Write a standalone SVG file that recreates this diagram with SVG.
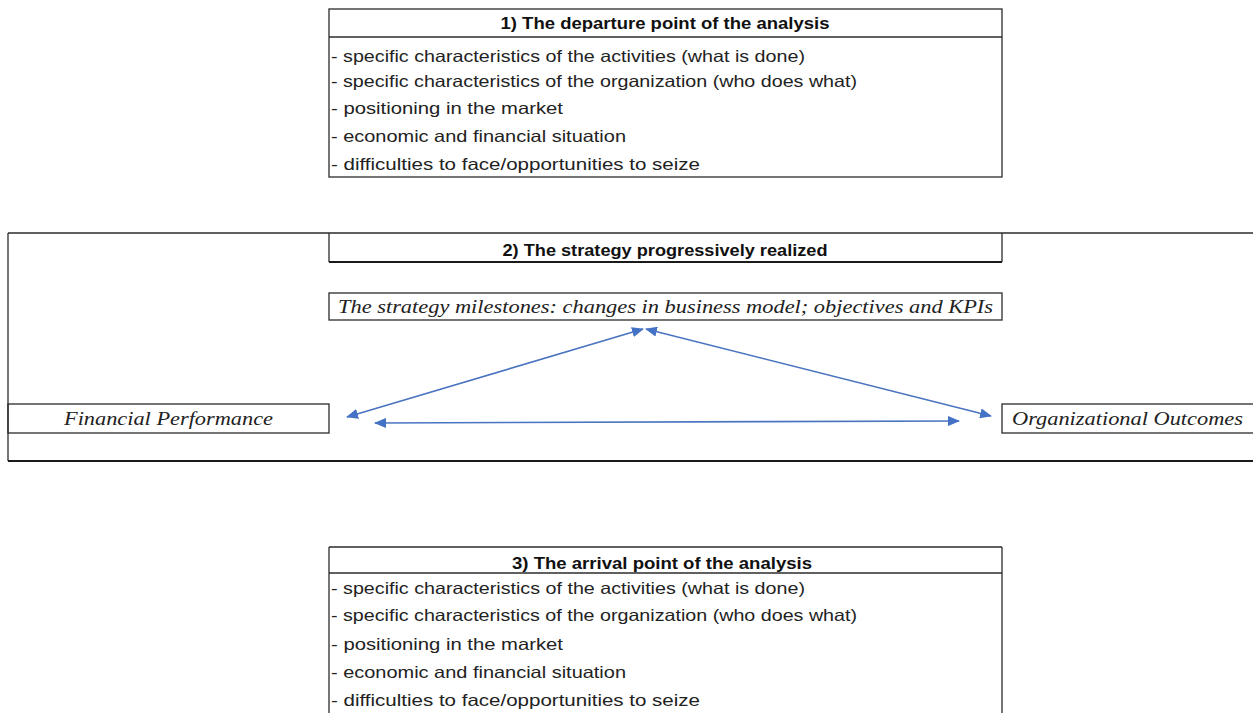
<svg xmlns="http://www.w3.org/2000/svg" width="1253" height="713" viewBox="0 0 1253 713">
  <defs>
    <style>
      .frame { fill: none; stroke: #2b2b2b; stroke-width: 1.3; }
      .thick { fill: none; stroke: #1a1a1a; stroke-width: 2.2; }
      .head { font-family: "Liberation Sans", Arial, sans-serif; font-size: 16.5px; font-weight: bold; fill: #111; }
      .row { font-family: "Liberation Sans", Arial, sans-serif; font-size: 16.5px; fill: #222; }
      .ital { font-family: "Liberation Serif", "Times New Roman", serif; font-style: italic; font-size: 18.5px; fill: #222; }
      .link { fill: none; stroke: #4a74c0; stroke-width: 1.6; }
    </style>
    <marker id="tip" viewBox="0 0 12 10" refX="11" refY="5" markerWidth="12" markerHeight="10" markerUnits="userSpaceOnUse" orient="auto-start-reverse">
      <path d="M0,0 L12,5 L0,10 Z" fill="#4472c4"/>
    </marker>
  </defs>
  <rect width="1253" height="713" fill="#ffffff"/>

  <!-- Step 1: starting situation -->
  <g id="departure">
    <rect class="frame" x="329" y="9" width="673" height="168"/>
    <line class="frame" x1="329" y1="37" x2="1002" y2="37"/>
    <text class="head" x="665" y="29" text-anchor="middle" textLength="329" lengthAdjust="spacingAndGlyphs">1) The departure point of the analysis</text>
    <text class="row" x="331" y="62" textLength="474" lengthAdjust="spacingAndGlyphs">- specific characteristics of the activities (what is done)</text>
    <text class="row" x="331" y="87" textLength="526" lengthAdjust="spacingAndGlyphs">- specific characteristics of the organization (who does what)</text>
    <text class="row" x="331" y="114" textLength="232" lengthAdjust="spacingAndGlyphs">- positioning in the market</text>
    <text class="row" x="331" y="142" textLength="295" lengthAdjust="spacingAndGlyphs">- economic and financial situation</text>
    <text class="row" x="331" y="170" textLength="369" lengthAdjust="spacingAndGlyphs">- difficulties to face/opportunities to seize</text>
  </g>

  <!-- Step 2: outer frame -->
  <g id="strategy-frame">
    <line class="frame" x1="8" y1="233" x2="1253" y2="233"/>
    <line class="frame" x1="8" y1="233" x2="8" y2="461"/>
    <line class="thick" x1="8" y1="461" x2="1253" y2="461"/>
  </g>

  <g id="strategy-header">
    <line class="frame" x1="329" y1="233" x2="329" y2="262"/>
    <line class="frame" x1="1002" y1="233" x2="1002" y2="262"/>
    <line class="thick" x1="329" y1="262" x2="1002" y2="262"/>
    <text class="head" x="665" y="256" text-anchor="middle" textLength="325" lengthAdjust="spacingAndGlyphs">2) The strategy progressively realized</text>
  </g>

  <g id="milestones">
    <rect class="frame" x="329" y="293" width="673" height="27"/>
    <text class="ital" x="338" y="313" textLength="655" lengthAdjust="spacingAndGlyphs">The strategy milestones: changes in business model; objectives and KPIs</text>
  </g>

  <g id="financial">
    <rect class="frame" x="8" y="404" width="321" height="29"/>
    <text class="ital" x="64" y="425" textLength="209" lengthAdjust="spacingAndGlyphs">Financial Performance</text>
  </g>

  <g id="organizational">
    <rect class="frame" x="1002" y="404" width="260" height="29"/>
    <text class="ital" x="1012" y="425" textLength="231" lengthAdjust="spacingAndGlyphs">Organizational Outcomes</text>
  </g>

  <!-- Two-way links between the three elements -->
  <g id="connectors">
    <line class="link" x1="643" y1="329" x2="347" y2="417" marker-start="url(#tip)" marker-end="url(#tip)"/>
    <line class="link" x1="646" y1="329" x2="991" y2="416" marker-start="url(#tip)" marker-end="url(#tip)"/>
    <line class="link" x1="375" y1="423" x2="959" y2="421" marker-start="url(#tip)" marker-end="url(#tip)"/>
  </g>

  <!-- Step 3: resulting situation -->
  <g id="arrival">
    <line class="frame" x1="329" y1="547" x2="1002" y2="547"/>
    <line class="frame" x1="329" y1="573" x2="1002" y2="573"/>
    <line class="frame" x1="329" y1="547" x2="329" y2="713"/>
    <line class="frame" x1="1002" y1="547" x2="1002" y2="713"/>
    <text class="head" x="662" y="569" text-anchor="middle" textLength="300" lengthAdjust="spacingAndGlyphs">3) The arrival point of the analysis</text>
    <text class="row" x="331" y="594" textLength="474" lengthAdjust="spacingAndGlyphs">- specific characteristics of the activities (what is done)</text>
    <text class="row" x="331" y="621" textLength="526" lengthAdjust="spacingAndGlyphs">- specific characteristics of the organization (who does what)</text>
    <text class="row" x="331" y="650" textLength="232" lengthAdjust="spacingAndGlyphs">- positioning in the market</text>
    <text class="row" x="331" y="678" textLength="295" lengthAdjust="spacingAndGlyphs">- economic and financial situation</text>
    <text class="row" x="331" y="706" textLength="369" lengthAdjust="spacingAndGlyphs">- difficulties to face/opportunities to seize</text>
  </g>
</svg>
